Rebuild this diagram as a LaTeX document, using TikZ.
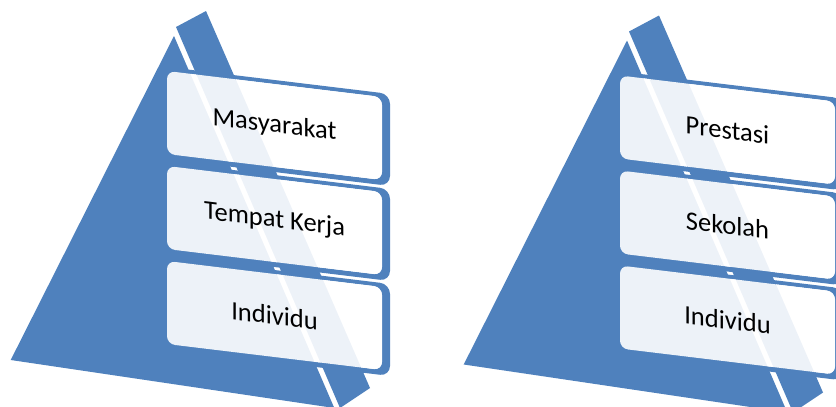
\documentclass[tikz,border=0pt]{standalone}
\usepackage{fontspec}
\setmainfont{Carlito}
\definecolor{pblue}{HTML}{4F81BD}
\newcommand\mypyr[4]{%
  \fill[face] (174,36) -- (10.7,360) -- (334.3,408) -- cycle;
  \fill[face] (176,27) -- (206,11) -- (370,388) -- (340,408) -- cycle;
  \foreach \t/\txt/\k in {71/#2/a,166/#3/b,261/#4/c}{
    \begin{scope}[shift={(167,0)},yslant=-0.121]
      \fill[pblue,even odd rule,rounded corners=10pt] (0,\t-4) rectangle (223,\t+88)
        [rounded corners=8pt] (0,\t) rectangle (215,\t+83);
      \fill[frontface,rounded corners=8pt] (0,\t) rectangle (215,\t+83);
      \node[boxlabel] (#1\k) at (107.5,\t+41.5) {\txt};
    \end{scope}
  }%
}
\begin{document}
\begin{tikzpicture}[x=1pt,y=-1pt,
  face/.style={fill=pblue},
  frontface/.style={fill=white,fill opacity=0.9},
  boxlabel/.style={font=\fontsize{26.5}{30}\selectfont,text=black,transform shape,inner sep=0pt}]
\clip (0,0) rectangle (836,407);
\useasboundingbox (0,0) rectangle (836,407);
\mypyr{L}{Masyarakat}{Tempat Kerja}{Individu}
\begin{scope}[shift={(453,4.5)}]
\mypyr{R}{Prestasi}{Sekolah}{Individu}
\end{scope}
\end{tikzpicture}
\end{document}
